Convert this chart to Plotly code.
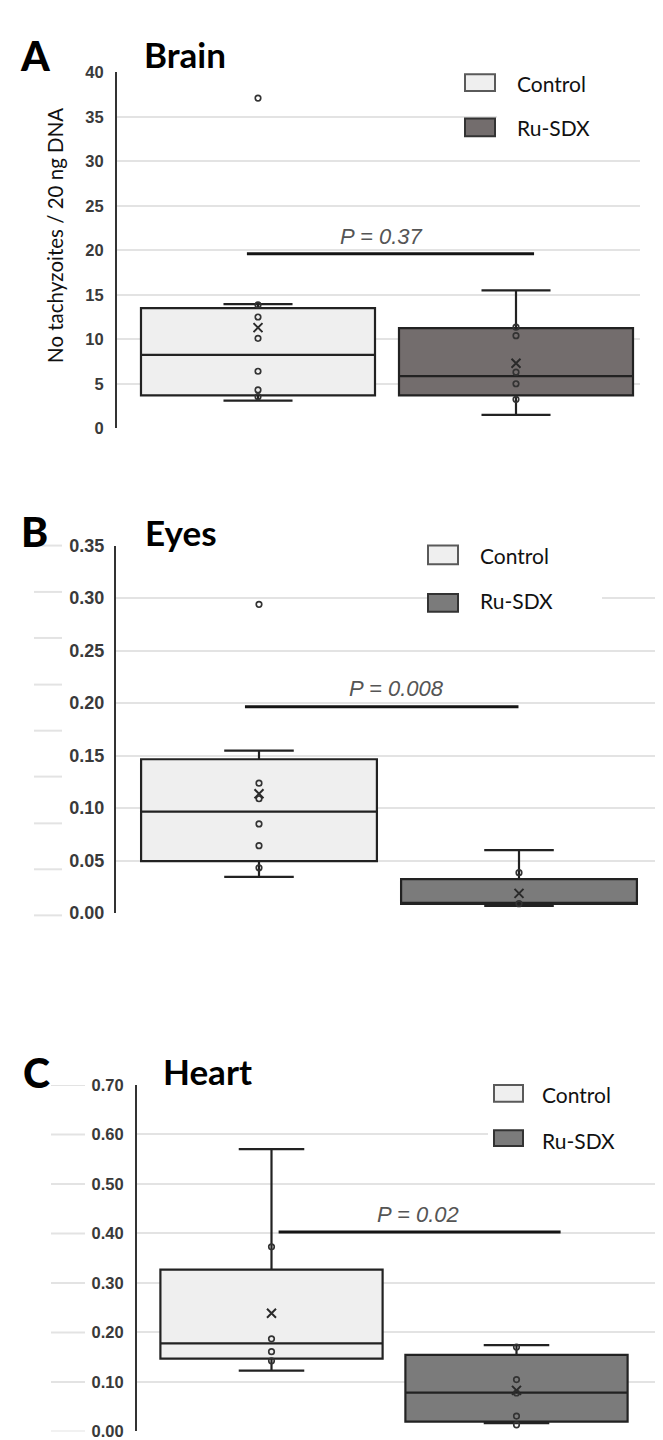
import plotly.graph_objects as go

W, H = 663, 1440

# ---------------- data ----------------
groups = ["Control", "Ru-SDX"]

# Brain
brain_q1 = [3.7, 3.7]
brain_median = [8.25, 5.85]
brain_q3 = [13.5, 11.25]
brain_lower = [3.1, 1.5]
brain_upper = [13.95, 15.5]
brain_mean = [11.3, 7.3]
brain_ctrl_pts = [37.1, 13.85, 12.5, 10.1, 6.4, 4.3, 3.55]
brain_ru_pts = [11.35, 10.4, 6.3, 5.0, 3.25]
brain_p = "P = 0.37"
brain_bar_y = 19.6

# Eyes
eyes_q1 = [0.0495, 0.0088]
eyes_median = [0.0967, 0.0096]
eyes_q3 = [0.1465, 0.0323]
eyes_lower = [0.0345, 0.0068]
eyes_upper = [0.1547, 0.060]
eyes_mean = [0.1136, 0.0188]
eyes_ctrl_pts = [0.294, 0.1237, 0.1089, 0.0849, 0.0642, 0.0432]
eyes_ru_pts = [0.0385, 0.009]
eyes_p = "P = 0.008"
eyes_bar_y = 0.1966

# Heart
heart_q1 = [0.147, 0.0199]
heart_median = [0.178, 0.0782]
heart_q3 = [0.327, 0.1545]
heart_lower = [0.1227, 0.0165]
heart_upper = [0.5705, 0.1744]
heart_mean = [0.2388, 0.0828]
heart_ctrl_pts = [0.373, 0.187, 0.161, 0.1426]
heart_ru_pts = [0.1704, 0.1047, 0.0776, 0.031, 0.0132]
heart_p = "P = 0.02"
heart_bar_y = 0.4027

brain_ticks = [0, 5, 10, 15, 20, 25, 30, 35, 40]
eyes_ticks = [0.0, 0.05, 0.10, 0.15, 0.20, 0.25, 0.30, 0.35]
heart_ticks = [0.0, 0.1, 0.2, 0.3, 0.4, 0.5, 0.6, 0.7]

# ---------------- styling ----------------
CTRL_FILL = "#efefef"
RU_FILL_A = "#736d6d"
RU_FILL = "#7b7b7b"
EDGE = "#222222"
GRID = "#e3e3e3"
TXT = "#3a3a3a"


def px_x(p):
    return p / W


def px_y(p):
    return 1 - p / H


fig = go.Figure()

panels = [
    dict(name="A", ax="", q1=brain_q1, med=brain_median, q3=brain_q3, lo=brain_lower,
         hi=brain_upper, mean=brain_mean, cp=brain_ctrl_pts, rp=brain_ru_pts,
         rufill=RU_FILL_A, xdom=(109, 632), xr=(-0.5465, 1.4806), ydom=(416, 55),
         yr=(0, 40), ticks=brain_ticks, fmt="", tsize=16.5, tstand=8,
         ptext=brain_p, pxy=(0.48, 21.5), bar=(-0.043, 1.07, brain_bar_y)),
    dict(name="B", ax="2", q1=eyes_q1, med=eyes_median, q3=eyes_q3, lo=eyes_lower,
         hi=eyes_upper, mean=eyes_mean, cp=eyes_ctrl_pts, rp=eyes_ru_pts,
         rufill=RU_FILL, xdom=(108, 663), xr=(-0.55, 1.5846), ydom=(907.7, 535),
         yr=(0, 0.35), ticks=eyes_ticks, fmt=".2f", tsize=18, tstand=6,
         ptext=eyes_p, pxy=(0.527, 0.214), bar=(-0.054, 0.998, eyes_bar_y)),
    dict(name="C", ax="3", q1=heart_q1, med=heart_median, q3=heart_q3, lo=heart_lower,
         hi=heart_upper, mean=heart_mean, cp=heart_ctrl_pts, rp=heart_ru_pts,
         rufill=RU_FILL, xdom=(129, 653), xr=(-0.549, 1.5898), ydom=(1433.3, 1082),
         yr=(0, 0.70), ticks=heart_ticks, fmt=".2f", tsize=16.5, tstand=8,
         ptext=heart_p, pxy=(0.598, 0.4385), bar=(0.029, 1.18, heart_bar_y)),
]

layout_axes = {}
shapes = []
annotations = []

for p in panels:
    xa = "x" + p["ax"]
    ya = "y" + p["ax"]
    for i, g in enumerate(groups):
        fig.add_trace(go.Box(
            x=[i], q1=[p["q1"][i]], median=[p["med"][i]], q3=[p["q3"][i]],
            lowerfence=[p["lo"][i]], upperfence=[p["hi"][i]],
            width=0.907, whiskerwidth=0.295, boxpoints=False,
            fillcolor=CTRL_FILL if i == 0 else p["rufill"],
            line=dict(color=EDGE, width=2.2), xaxis=xa, yaxis=ya,
            showlegend=False, hoverinfo="skip"))
    for i, pts in enumerate([p["cp"], p["rp"]]):
        fig.add_trace(go.Scatter(
            x=[i] * len(pts), y=pts, mode="markers",
            marker=dict(symbol="circle-open", size=5.5, color="#333333",
                        line=dict(width=1.7, color="#333333")),
            xaxis=xa, yaxis=ya, showlegend=False, hoverinfo="skip"))
    fig.add_trace(go.Scatter(
        x=[0, 1], y=p["mean"], mode="markers",
        marker=dict(symbol="x-thin", size=9, line=dict(width=2, color="#2a2a2a")),
        xaxis=xa, yaxis=ya, showlegend=False, hoverinfo="skip"))

    x0, x1 = p["xdom"]
    yb, yt = p["ydom"]
    layout_axes["xaxis" + p["ax"]] = dict(
        domain=[px_x(x0), px_x(x1)], range=list(p["xr"]), anchor=ya,
        showgrid=False, zeroline=False, showline=False, showticklabels=False,
        ticks="")
    layout_axes["yaxis" + p["ax"]] = dict(
        domain=[px_y(yb), px_y(yt)], range=list(p["yr"]), anchor=xa,
        tickvals=p["ticks"], tickformat=p["fmt"], ticks="",
        showgrid=True, gridcolor=GRID, gridwidth=2, zeroline=False,
        showline=True, linecolor="#333333", linewidth=2,
        ticklabelstandoff=p["tstand"],
        tickfont=dict(family="Liberation Sans Narrow, Liberation Sans, Arial",
                      size=p["tsize"], color=TXT, weight="bold"))

    # significance bar
    bx0, bx1, by = p["bar"]
    shapes.append(dict(type="line", xref=xa, yref=ya, x0=bx0, x1=bx1, y0=by, y1=by,
                       line=dict(color="#151515", width=3), layer="above"))
    annotations.append(dict(text=p["ptext"], xref=xa, yref=ya, x=p["pxy"][0],
                            y=p["pxy"][1], showarrow=False,
                            font=dict(family="Liberation Sans, Arial", size=22,
                                      color="#555555", style="italic")))

fig.update_layout(**layout_axes)

# white patches where gridlines are hidden behind titles / legends
white_patches = [
    (489, 632, 48, 125),      # A legend
    (420, 594, 528, 612),     # B legend
    (110, 227, 529, 541),     # B title
    (480, 653, 1076, 1140),   # C legend
    (131, 269, 1076, 1088),   # C title
]
for (a, b, c, d) in white_patches:
    shapes.append(dict(type="rect", xref="paper", yref="paper",
                       x0=px_x(a), x1=px_x(b), y0=px_y(d), y1=px_y(c),
                       fillcolor="white", line=dict(width=0), layer="above"))

# stray short gridline stubs to the left of panel B labels
for yy in [535, 582, 628.7, 676, 722.7, 769.3, 816.7, 863.3, 910]:
    shapes.append(dict(type="line", xref="paper", yref="paper",
                       x0=px_x(26), x1=px_x(54), y0=px_y(yy), y1=px_y(yy),
                       line=dict(color=GRID, width=2), layer="above"))
# stubs to the left of panel C labels, aligned to ticks
for t in heart_ticks:
    shapes.append(dict(type="line", xref="paper", yref="y3",
                       x0=px_x(43), x1=px_x(77), y0=t, y1=t,
                       line=dict(color=GRID, width=2), layer="above"))

# legends (drawn)
legend_pos = [
    # (box x0, x1, control y0,y1, ru y0,y1, text x, control text y, ru text y, ru fill)
    (457, 487, 57, 74, 102, 120, 507, 66, 111, RU_FILL_A),
    (420, 450, 535, 554, 584, 602, 470, 545, 591, RU_FILL),
    (486, 515, 1082, 1099, 1128, 1144, 532, 1092, 1138, RU_FILL),
]
for (bx0, bx1, cy0, cy1, ry0, ry1, tx, cty, rty, rf) in legend_pos:
    shapes.append(dict(type="rect", xref="paper", yref="paper",
                       x0=px_x(bx0), x1=px_x(bx1), y0=px_y(cy1), y1=px_y(cy0),
                       fillcolor=CTRL_FILL, line=dict(color="#5a5a5a", width=2),
                       layer="above"))
    shapes.append(dict(type="rect", xref="paper", yref="paper",
                       x0=px_x(bx0), x1=px_x(bx1), y0=px_y(ry1), y1=px_y(ry0),
                       fillcolor=rf, line=dict(color="#333333", width=2),
                       layer="above"))
    for label, ty in [(groups[0], cty), (groups[1], rty)]:
        annotations.append(dict(text=label, xref="paper", yref="paper",
                                x=px_x(tx), y=px_y(ty), xanchor="left",
                                yanchor="middle", showarrow=False,
                                font=dict(family="Lato, Open Sans", size=21,
                                          color="#111111")))

# panel letters and titles
for letter, lx, ly in [("A", 27.5, 38), ("B", 26.5, 521), ("C", 29, 1069)]:
    annotations.append(dict(text=letter, xref="paper", yref="paper",
                            x=px_x(lx), y=px_y(ly), xanchor="center",
                            yanchor="middle", showarrow=False,
                            font=dict(family="Lato, Open Sans", size=41,
                                      color="#000000", weight=900)))
for title, tx, ty in [("Brain", 134, 37), ("Eyes", 135, 521), ("Heart", 153, 1068)]:
    annotations.append(dict(text=title, xref="paper", yref="paper",
                            x=px_x(tx), y=px_y(ty), xanchor="left",
                            yanchor="middle", showarrow=False,
                            font=dict(family="Lato, Open Sans", size=35,
                                      color="#000000", weight="bold")))

# y-axis title (panel A)
annotations.append(dict(text="No tachyzoites / 20 ng DNA", xref="paper", yref="paper",
                        x=px_x(47), y=px_y(221), xanchor="center", yanchor="middle",
                        textangle=-90, showarrow=False,
                        font=dict(family="Lato, Open Sans", size=20.5, color="#111111")))

fig.update_layout(
    width=W, height=H, margin=dict(l=0, r=0, t=0, b=0),
    paper_bgcolor="white", plot_bgcolor="white",
    shapes=shapes, annotations=annotations, showlegend=False,
)

fig.write_html("out.html")
